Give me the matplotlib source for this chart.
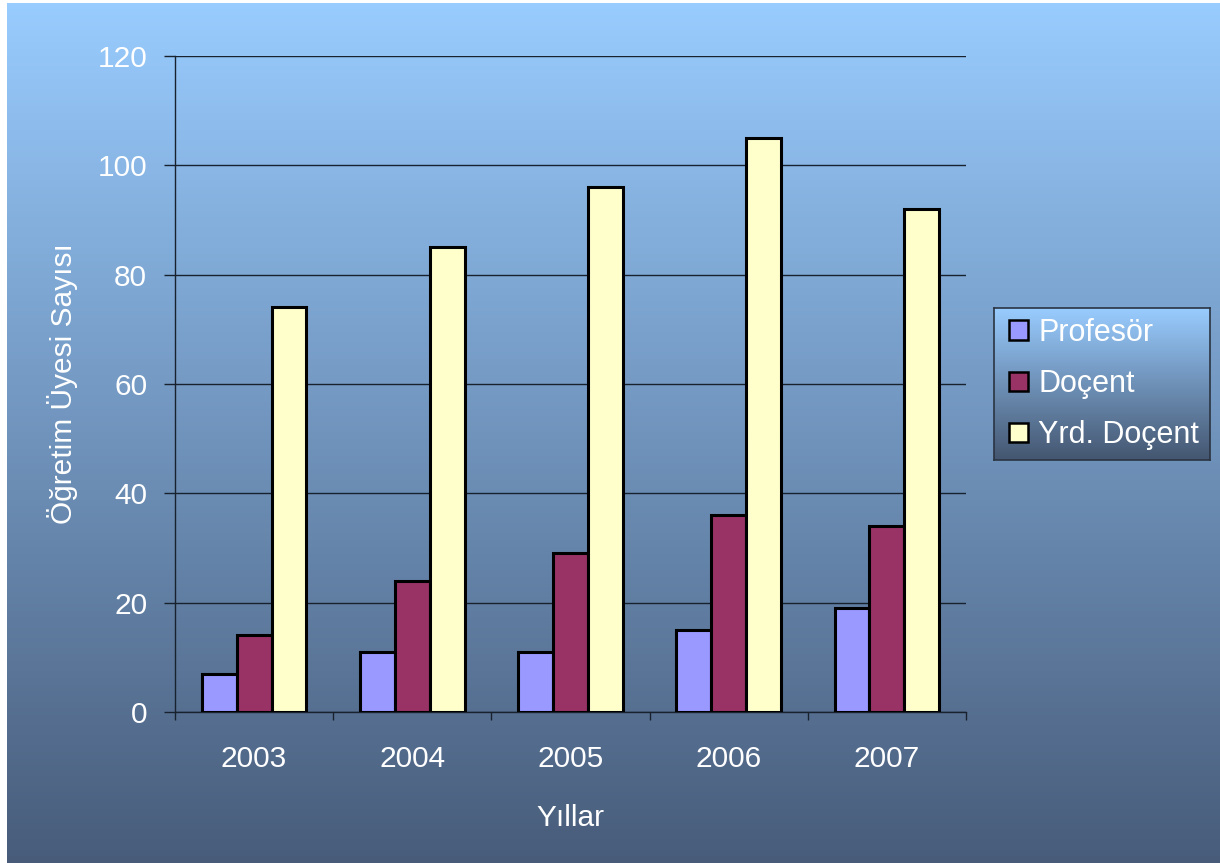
import numpy as np
import matplotlib
matplotlib.use("Agg")
import matplotlib.pyplot as plt

plt.rcParams['font.family'] = ['Liberation Sans', 'DejaVu Sans']

# data
years = ["2003", "2004", "2005", "2006", "2007"]
profesor = [7, 11, 11, 15, 19]
docent = [14, 24, 29, 36, 34]
yrd_docent = [74, 85, 96, 105, 92]
series_names = ["Profesör", "Doçent", "Yrd. Doçent"]
series_colors = ["#9999FF", "#993366", "#FFFFCC"]

W, H = 1220, 863
fig = plt.figure(figsize=(W / 100, H / 100), dpi=100)
fig.patch.set_facecolor("white")


def gradient(top, bottom, n=256):
    t = np.linspace(0, 1, n)[:, None]
    top = np.array(top) / 255.0
    bottom = np.array(bottom) / 255.0
    g = top[None, :] * (1 - t) + bottom[None, :] * t
    return g[:, None, :]


# gradient background (small white margin at top/left)
bg = fig.add_axes([7 / W, 0, 1 - 7 / W, 1 - 3 / H])
bg.imshow(gradient((153, 204, 255), (72, 92, 122)), aspect="auto", extent=[0, 1, 0, 1])
bg.set_axis_off()
bg.set_zorder(0)

ax = fig.add_axes([175 / W, 1 - 712 / H, (966 - 175) / W, (712 - 56) / H])
ax.set_zorder(1)
ax.patch.set_alpha(0)

x = np.arange(len(years))
w = 0.22
for i, (vals, name, col) in enumerate(zip([profesor, docent, yrd_docent], series_names, series_colors)):
    ax.bar(x + (i - 1) * w, vals, w, color=col, edgecolor="black", linewidth=2.2, label=name, zorder=3)

grid_col = "#18222e"
ax.set_xlim(-0.5, len(years) - 0.5)
ax.set_ylim(0, 120)
ax.set_yticks(range(0, 121, 20))
ax.yaxis.grid(True, color=grid_col, linewidth=1.0, zorder=1)
ax.set_axisbelow(True)

ax.set_xticks(x)
ax.set_xticklabels(years)
ax.set_xticks(np.arange(-0.5, len(years), 1), minor=True)
ax.tick_params(axis="x", which="major", length=0, pad=24, labelsize=21.5, labelcolor="white")
ax.tick_params(axis="x", which="minor", length=6, width=1.0, color=grid_col, direction="out")
ax.tick_params(axis="y", length=8, width=1.0, color=grid_col, pad=12, labelsize=21.5, labelcolor="white")

for s in ["top", "right"]:
    ax.spines[s].set_visible(False)
for s in ["left", "bottom"]:
    ax.spines[s].set_color(grid_col)
    ax.spines[s].set_linewidth(1.0)

ax.set_xlabel("Yıllar", fontsize=21.5, color="white", labelpad=22)
ax.set_ylabel("Öğretim Üyesi Sayısı", fontsize=21.5, color="white", labelpad=14)

# legend with its own gradient box
lx0, ly0, lx1, ly1 = 994, 308, 1210, 460
lbg = fig.add_axes([lx0 / W, 1 - ly1 / H, (lx1 - lx0) / W, (ly1 - ly0) / H])
lbg.imshow(gradient((153, 204, 255), (68, 86, 112)), aspect="auto", extent=[0, 1, 0, 1])
lbg.set_xticks([])
lbg.set_yticks([])
for s in lbg.spines.values():
    s.set_color("#2a3442")
    s.set_linewidth(1.2)
lbg.set_zorder(2)

leg = fig.legend(loc="center left", bbox_to_anchor=(994 / W, 1 - 384 / H), frameon=False,
                 fontsize=22, labelcolor="white", handlelength=0.6, handleheight=0.6,
                 handletextpad=0.35, labelspacing=0.7, borderpad=0)
leg.set_zorder(3)
for h in leg.legend_handles:
    h.set_linewidth(1.8)

fig.savefig("out.png", dpi=100, facecolor=fig.get_facecolor())
